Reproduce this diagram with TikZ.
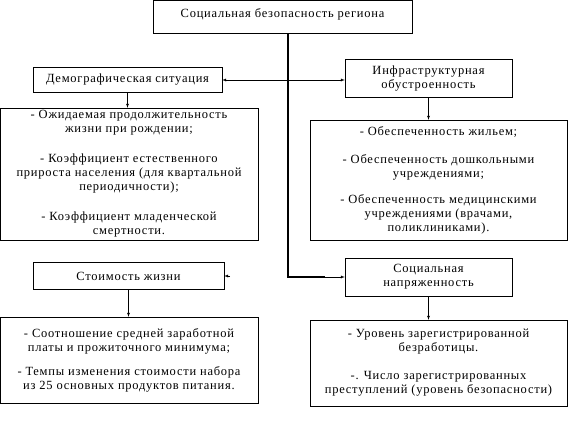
\documentclass[tikz,border=0pt]{standalone}
\usepackage{fontspec}
\setmainfont[LetterSpace=6]{Liberation Serif}
\usepackage{tikz}
\usetikzlibrary{shapes,arrows,positioning}

\begin{document}
\begin{tikzpicture}[x=1pt, y=-1pt, >=latex, font=\fontsize{12.5}{14}\selectfont]
    \useasboundingbox[fill=white] (0,0) rectangle (572,440);

    \node (region) [rectangle, draw, minimum width=259pt, minimum height=33pt, align=center, inner sep=0pt] at (282.5,16.5) {\raisebox{6pt}{Социальная безопасность региона}};

    \node (demo) [rectangle, draw, minimum width=189pt, minimum height=25pt, align=center, inner sep=0pt] at (127.5,80) {Демографическая ситуация};
    \node (infra) [rectangle, draw, minimum width=167pt, minimum height=38pt, align=center, inner sep=0pt] at (428.5,78.5) {Инфраструктурная\\обустроенность};

    \node (demolist) [rectangle, draw, minimum width=258pt, minimum height=132pt, align=center, inner sep=0pt] at (129,174) {- Ожидаемая продолжительность\\жизни при рождении;\\[16pt]- Коэффициент естественного\\прироста населения (для квартальной\\периодичности);\\[16pt]- Коэффициент младенческой\\смертности.};
    \node (infralist) [rectangle, draw, minimum width=257pt, minimum height=120pt, align=center, inner sep=0pt] at (438.5,180) {- Обеспеченность жильем;\\[14pt]- Обеспеченность дошкольными\\учреждениями;\\[12pt]- Обеспеченность медицинскими\\учреждениями (врачами,\\поликлиниками).};

    \node (cost) [rectangle, draw, minimum width=191pt, minimum height=27pt, align=center, inner sep=0pt] at (128.5,276) {Стоимость жизни};
    \node (tension) [rectangle, draw, minimum width=167pt, minimum height=38pt, align=center, inner sep=0pt] at (428.5,277) {Социальная\\напряженность};

    \node (costlist) [rectangle, draw, minimum width=258pt, minimum height=86pt, align=center, inner sep=0pt] at (129,360) {- Соотношение средней заработной\\платы и прожиточного минимума;\\[10pt]- Темпы изменения стоимости набора\\из 25 основных продуктов питания.};
    \node (tensionlist) [rectangle, draw, minimum width=257pt, minimum height=86pt, align=center, inner sep=0pt] at (438.5,363) {- Уровень зарегистрированной\\безработицы.\\[14pt]-. Число зарегистрированных\\преступлений (уровень безопасности)};

    \coordinate (hub) at (288,80);
    \coordinate (costtip) at ([xshift=6pt]cost.east);

    \draw[line width=1.3pt] (region.south -| hub) |- ([xshift=-20pt]tension.west);
    \draw[->] ([xshift=-20pt]tension.west) -- (tension.west);
    \draw[<->] (demo.east) -- (demo.east -| infra.west);
    \draw[->] (demo.south) -- (demo.south |- demolist.north);
    \draw[->] (infra.south) -- (infra.south |- infralist.north);
    \draw[->] (cost.south) -- (cost.south |- costlist.north);
    \draw[->] (tension.south) -- (tension.south |- tensionlist.north);
    \draw[->] (costtip) -- (cost.east);
\end{tikzpicture}
\end{document}
